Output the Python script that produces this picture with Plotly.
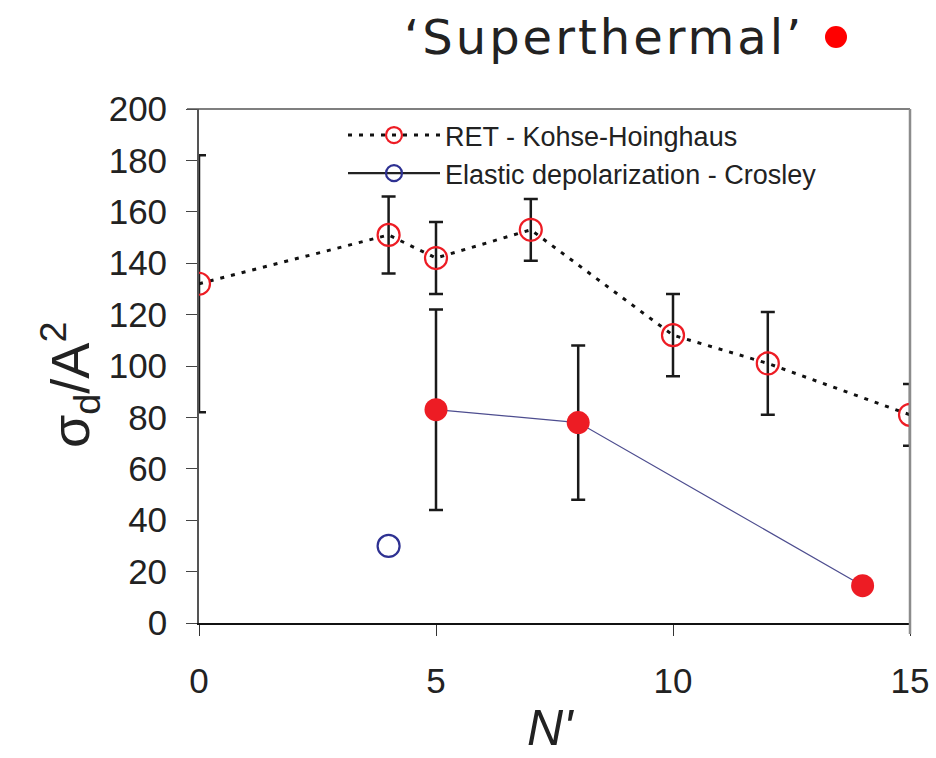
import plotly.graph_objects as go

# RET - Kohse-Hoinghaus
ret_x = [0, 4, 5, 7, 10, 12, 15]
ret_y = [132, 151, 142, 153, 112, 101, 81]
ret_err = [50, 15, 14, 12, 16, 20, 12]

# 'Superthermal'
sup_x = [5, 8, 14]
sup_y = [83, 78, 14.5]
sup_err = [39, 30, 0]

# Elastic depolarization - Crosley
ela_x = [4]
ela_y = [30]

x_ticks = [0, 5, 10, 15]
y_ticks = [0, 20, 40, 60, 80, 100, 120, 140, 160, 180, 200]

RED = "#ed1c24"
BLUE = "#2e3192"
FONT = "Liberation Sans, Arial, sans-serif"

fig = go.Figure()

fig.add_trace(go.Scatter(
    x=sup_x, y=sup_y, mode="lines+markers", showlegend=False,
    line=dict(color="#4d4d8f", width=1.2),
    marker=dict(color=RED, size=23, line=dict(width=0)),
    error_y=dict(type="data", array=sup_err, color="#1a1a1a", thickness=2.5, width=7),
))

fig.add_trace(go.Scatter(
    x=ret_x, y=ret_y, mode="lines+markers", name="RET - Kohse-Hoinghaus",
    line=dict(color="#111111", width=3, dash="4px,7px"),
    marker=dict(symbol="circle-open", color=RED, size=22, line=dict(width=2.2, color=RED)),
    error_y=dict(type="data", array=ret_err, color="#1a1a1a", thickness=2.5, width=7),
))

fig.add_trace(go.Scatter(
    x=ela_x, y=ela_y, mode="lines+markers", name="Elastic depolarization - Crosley",
    line=dict(color="#222222", width=2.2),
    marker=dict(symbol="circle-open", color=BLUE, size=22, line=dict(width=2.2, color=BLUE)),
))

W, H = 936, 758
L, R, T, B = 199, 26, 109, 135
pw, ph = W - L - R, H - T - B

def px(xp):
    return (xp - L) / pw

def py(yp):
    return (H - B - yp) / ph

fig.update_layout(
    width=W, height=H,
    margin=dict(l=L, r=R, t=T, b=B, pad=0, autoexpand=False),
    paper_bgcolor="white", plot_bgcolor="white",
    font=dict(family=FONT, color="#222222"),
    showlegend=True,
    legend=dict(
        x=px(343), y=py(111), xanchor="left", yanchor="top",
        bgcolor="rgba(0,0,0,0)", borderwidth=0,
        font=dict(family=FONT, size=27, color="#222222"),
        itemwidth=92, tracegroupgap=0,
    ),
    xaxis=dict(
        range=[0, 15], tickvals=x_ticks, ticktext=[str(v) for v in x_ticks],
        showgrid=False, zeroline=False, automargin=False,
        showline=True, linecolor="#111111", linewidth=1.5,
        ticks="outside", ticklen=11, tickwidth=1.2, tickcolor="#333333",
        tickfont=dict(family=FONT, size=35, color="#222222"),
        ticklabelstandoff=15,
    ),
    yaxis=dict(
        range=[0, 200], tickvals=y_ticks, ticktext=[str(v) for v in y_ticks],
        showgrid=False, zeroline=False, automargin=False,
        showline=True, linecolor="#555555", linewidth=1.8,
        ticks="outside", ticklen=11, tickwidth=1.2, tickcolor="#444444",
        tickfont=dict(family=FONT, size=35, color="#222222"),
        ticklabelstandoff=12,
    ),
    shapes=[
        dict(type="line", xref="paper", yref="paper", x0=px(187), x1=1, y0=1, y1=1,
             line=dict(color="#555555", width=1.5)),
        dict(type="line", xref="paper", yref="paper", x0=1, x1=1, y0=1, y1=py(634),
             line=dict(color="#8c8c8c", width=2.5)),
        dict(type="circle", xref="paper", yref="paper",
             x0=px(825), x1=px(847), y0=py(26), y1=py(48),
             fillcolor="#ff0000", line=dict(width=0)),
    ],
    annotations=[
        dict(text="<span style='letter-spacing:3px'>‘Superthermal’</span>", xref="paper", yref="paper",
             x=px(402), y=py(37), xanchor="left", yanchor="middle", showarrow=False,
             font=dict(family="DejaVu Sans", size=48, color="#222222")),
        dict(text="σ<sub>d</sub>/A<sup>2</sup>", xref="paper", yref="paper",
             x=px(70), y=py(385), xanchor="center", yanchor="middle", showarrow=False,
             textangle=-90, font=dict(family=FONT, size=54, color="#222222")),
        dict(text="<i>N'</i>", xref="paper", yref="paper",
             x=px(550), y=py(728), xanchor="center", yanchor="middle", showarrow=False,
             font=dict(family=FONT, size=50, color="#222222")),
    ],
)

fig.write_html("out.html")
